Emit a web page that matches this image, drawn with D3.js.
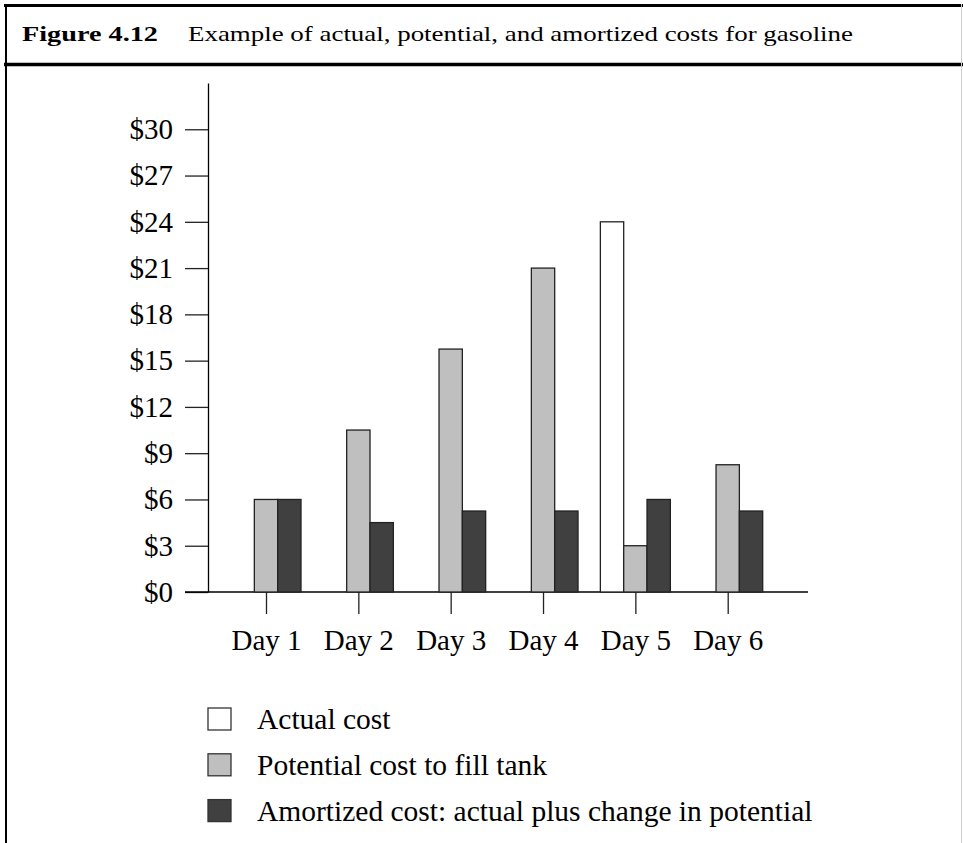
<!DOCTYPE html>
<html>
<head>
<meta charset="utf-8">
<script src="https://cdn.jsdelivr.net/npm/d3@7"></script>
<style>
  body { margin: 0; background: #fff; }
  svg { display: block; }
  text { font-family: "Liberation Serif", "Times New Roman", serif; fill: #000; }
</style>
</head>
<body>
<svg width="963" height="843"></svg>
<script>
// data
var days = ["Day 1", "Day 2", "Day 3", "Day 4", "Day 5", "Day 6"];
var series = ["Actual cost", "Potential cost to fill tank", "Amortized cost: actual plus change in potential"];
var actual = [0, 0, 0, 0, 24, 0];
var potential = [6, 10.5, 15.75, 21, 3, 8.25];
var amortized = [6, 4.5, 5.25, 5.25, 6, 5.25];
var yTicks = [0, 3, 6, 9, 12, 15, 18, 21, 24, 27, 30];
var colors = ["#ffffff", "#bfbfbf", "#404040"];

var svg = d3.select("svg");

// frame round the figure
svg.append("line").attr("x1", 4).attr("x2", 963).attr("y1", 5.5).attr("y2", 5.5)
    .attr("stroke", "#000").attr("stroke-width", 3);
svg.append("line").attr("x1", 6).attr("x2", 6).attr("y1", 4).attr("y2", 843)
    .attr("stroke", "#000").attr("stroke-width", 2);
svg.append("line").attr("x1", 4).attr("x2", 963).attr("y1", 64.5).attr("y2", 64.5)
    .attr("stroke", "#000").attr("stroke-width", 3.5);
svg.append("line").attr("x1", 961.5).attr("x2", 961.5).attr("y1", 4).attr("y2", 843)
    .attr("stroke", "#ccc").attr("stroke-width", 1);

// caption
svg.append("text").attr("x", 22).attr("y", 41)
    .attr("font-size", 21).attr("font-weight", "bold")
    .attr("textLength", 136).attr("lengthAdjust", "spacingAndGlyphs")
    .text("Figure 4.12");
svg.append("text").attr("x", 188).attr("y", 41)
    .attr("font-size", 21)
    .attr("textLength", 665).attr("lengthAdjust", "spacingAndGlyphs")
    .text("Example of actual, potential, and amortized costs for gasoline");

// scales
var x = d3.scalePoint().domain(days).range([266, 727.7]);
var xs = d3.scaleBand().domain(series).range([-35, 35]);
var y = d3.scaleLinear().domain([0, 33]).range([592, 83]);

// y axis
var yAxis = svg.append("g")
    .attr("transform", "translate(208,0)")
    .call(d3.axisLeft(y).tickValues(yTicks).tickSize(23).tickSizeOuter(0).tickPadding(12)
        .tickFormat(function(d) { return "$" + d; }));
yAxis.select(".domain").attr("stroke", "#000").attr("stroke-width", 1.3);
yAxis.selectAll(".tick line").attr("stroke", "#222").attr("stroke-width", 1.3);
yAxis.selectAll(".tick text").attr("font-size", 29).attr("font-family", "Liberation Serif").attr("fill", "#000");

// x axis
var xAxis = svg.append("g")
    .attr("transform", "translate(0," + y(0) + ")")
    .call(d3.axisBottom(x).tickSize(22).tickSizeOuter(0).tickPadding(15));
xAxis.select(".domain").remove();
xAxis.selectAll(".tick line").attr("stroke", "#222").attr("stroke-width", 1.3);
xAxis.selectAll(".tick text").attr("font-size", 29).attr("font-family", "Liberation Serif").attr("fill", "#000");
xAxis.append("line").attr("x1", 185).attr("x2", 808).attr("y1", 0).attr("y2", 0)
    .attr("stroke", "#000").attr("stroke-width", 1.3);

// bars, zero values are not drawn
var rows = [actual, potential, amortized];
var bars = [];
rows.forEach(function(vals, s) {
  vals.forEach(function(v, i) {
    if (v > 0) bars.push({day: days[i], serie: series[s], value: v, color: colors[s]});
  });
});

svg.append("g").selectAll(".bar")
  .data(bars)
  .enter().append("rect")
    .attr("class", "bar")
    .attr("x", function(d) { return x(d.day) + xs(d.serie); })
    .attr("y", function(d) { return y(d.value); })
    .attr("width", xs.bandwidth())
    .attr("height", function(d) { return y(0) - y(d.value); })
    .attr("fill", function(d) { return d.color; })
    .attr("stroke", "#222")
    .attr("stroke-width", 1.3);

// legend
var legend = svg.append("g").selectAll(".legend")
  .data(series)
  .enter().append("g")
    .attr("class", "legend")
    .attr("transform", function(d, i) { return "translate(208," + (708 + i * 45.8) + ")"; });

legend.append("rect")
    .attr("width", 23).attr("height", 22)
    .attr("fill", function(d, i) { return colors[i]; })
    .attr("stroke", "#333").attr("stroke-width", 1.3);

legend.append("text")
    .attr("x", 49).attr("y", 21)
    .attr("font-size", 29.5)
    .text(function(d) { return d; });
</script>
</body>
</html>
